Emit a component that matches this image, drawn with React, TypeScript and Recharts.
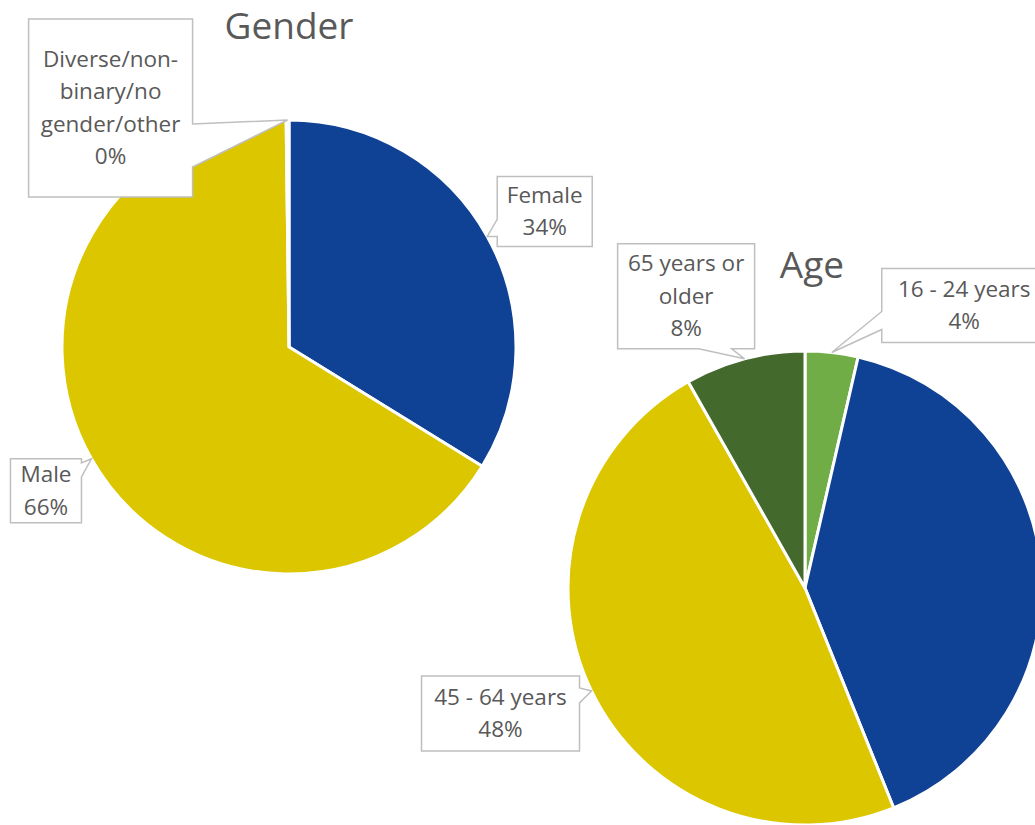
import { Cell, Pie, PieChart } from "recharts";

const genderNames = ["Female", "Male", "Diverse/non-binary/no gender/other"];
const genderValues = [33.8, 66.0, 0.2];
const genderLabelLines = [["Female"], ["Male"], ["Diverse/non-", "binary/no", "gender/other"]];
const genderColors = ["#0F4194", "#DBC600", "#A5A5A5"];

const ageNames = ["16 - 24 years", "25 - 44 years", "45 - 64 years", "65 years or older"];
const ageValues = [3.6, 40.3, 47.9, 8.2];
const ageLabelLines = [["16 - 24 years"], ["25 - 44 years"], ["45 - 64 years"], ["65 years or", "older"]];
const ageColors = ["#70AD47", "#0F4194", "#DBC600", "#436A2C"];

type Side = "left" | "right" | "top" | "bottom";
type Callout = { dx: number; dy: number; w: number; h: number; side: Side; b0: number; b1: number } | null;

// box offsets relative to the label tip (point on the rim at mid angle)
const genderCallouts: Callout[] = [
  { dx: 10, dy: -60, w: 95, h: 70, side: "left", b0: 43, b1: 60 },
  { dx: -81, dy: 0, w: 71, h: 64, side: "right", b0: 4, b1: 18 },
  { dx: -259, dy: -101, w: 164, h: 178, side: "right", b0: 105, b1: 148 },
];
// the 25 - 44 callout sits outside the visible area in the original
const ageCallouts: Callout[] = [
  { dx: 50, dy: -84, w: 165, h: 74, side: "left", b0: 43, b1: 61 },
  null,
  { dx: -170, dy: -15, w: 158, h: 75, side: "right", b0: 12, b1: 27 },
  { dx: -127, dy: -115, w: 137, h: 105, side: "bottom", b0: 81, b1: 114 },
];

const RAD = Math.PI / 180;
const FONT = "'Open Sans', sans-serif";
const TEXT = "#595959";

function calloutPath(x: number, y: number, w: number, h: number, c: NonNullable<Callout>, tx: number, ty: number) {
  const r = x + w;
  const b = y + h;
  switch (c.side) {
    case "left":
      return `M${x},${y}H${r}V${b}H${x}V${y + c.b1}L${tx},${ty}L${x},${y + c.b0}Z`;
    case "right":
      return `M${x},${y}H${r}V${y + c.b0}L${tx},${ty}L${r},${y + c.b1}V${b}H${x}Z`;
    case "top":
      return `M${x},${y}H${x + c.b0}L${tx},${ty}L${x + c.b1},${y}H${r}V${b}H${x}Z`;
    default:
      return `M${x},${y}H${r}V${b}H${x + c.b1}L${tx},${ty}L${x + c.b0},${b}H${x}Z`;
  }
}

function makeLabel(lines: string[][], values: number[], callouts: Callout[]) {
  return (props: any) => {
    const { cx, cy, midAngle, outerRadius, index } = props;
    const c = callouts[index];
    if (!c) return <g key={`callout-${index}`} />;
    const tx = cx + outerRadius * Math.cos(-midAngle * RAD);
    const ty = cy + outerRadius * Math.sin(-midAngle * RAD);
    const x = tx + c.dx;
    const y = ty + c.dy;
    const rows = [...lines[index], `${Math.round(values[index])}%`];
    const lh = 32.5;
    const mid = y + c.h / 2;
    return (
      <g key={`callout-${index}`}>
        <path d={calloutPath(x, y, c.w, c.h, c, tx, ty)} fill="#fff" stroke="#BFBFBF" strokeWidth={1.5} />
        {rows.map((t, i) => (
          <text
            key={i}
            x={x + c.w / 2}
            y={mid + (i - (rows.length - 1) / 2) * lh - 1}
            textAnchor="middle"
            dominantBaseline="central"
            fontFamily={FONT}
            fontSize={22.5}
            fill={TEXT}
          >
            {t}
          </text>
        ))}
      </g>
    );
  };
}

const genderData = genderNames.map((name, i) => ({ name, value: genderValues[i] }));
const ageData = ageNames.map((name, i) => ({ name, value: ageValues[i] }));

const titleStyle = {
  position: "absolute" as const,
  fontFamily: FONT,
  fontSize: 37,
  color: TEXT,
  transform: "translateX(-50%)",
  whiteSpace: "nowrap" as const,
  lineHeight: 1.2,
};

export default function App() {
  return (
    <div
      style={{
        position: "absolute",
        left: 0,
        top: 0,
        width: 1035,
        height: 825,
        overflow: "hidden",
        background: "#fff",
      }}
    >
      <PieChart width={1035} height={825} margin={{ top: 0, right: 0, bottom: 0, left: 0 }}>
        <Pie
          data={genderData}
          dataKey="value"
          nameKey="name"
          cx={289}
          cy={347}
          outerRadius={227}
          startAngle={90}
          endAngle={-270}
          stroke="#fff"
          strokeWidth={3}
          labelLine={false}
          label={makeLabel(genderLabelLines, genderValues, genderCallouts)}
          isAnimationActive={false}
        >
          {genderData.map((d, i) => (
            <Cell key={d.name} fill={genderColors[i]} />
          ))}
        </Pie>
        <Pie
          data={ageData}
          dataKey="value"
          nameKey="name"
          cx={805}
          cy={588}
          outerRadius={237}
          startAngle={90}
          endAngle={-270}
          stroke="#fff"
          strokeWidth={3}
          labelLine={false}
          label={makeLabel(ageLabelLines, ageValues, ageCallouts)}
          isAnimationActive={false}
        >
          {ageData.map((d, i) => (
            <Cell key={d.name} fill={ageColors[i]} />
          ))}
        </Pie>
      </PieChart>
      <div style={{ ...titleStyle, left: 289, top: 3 }}>Gender</div>
      <div style={{ ...titleStyle, left: 812, top: 242 }}>Age</div>
    </div>
  );
}
